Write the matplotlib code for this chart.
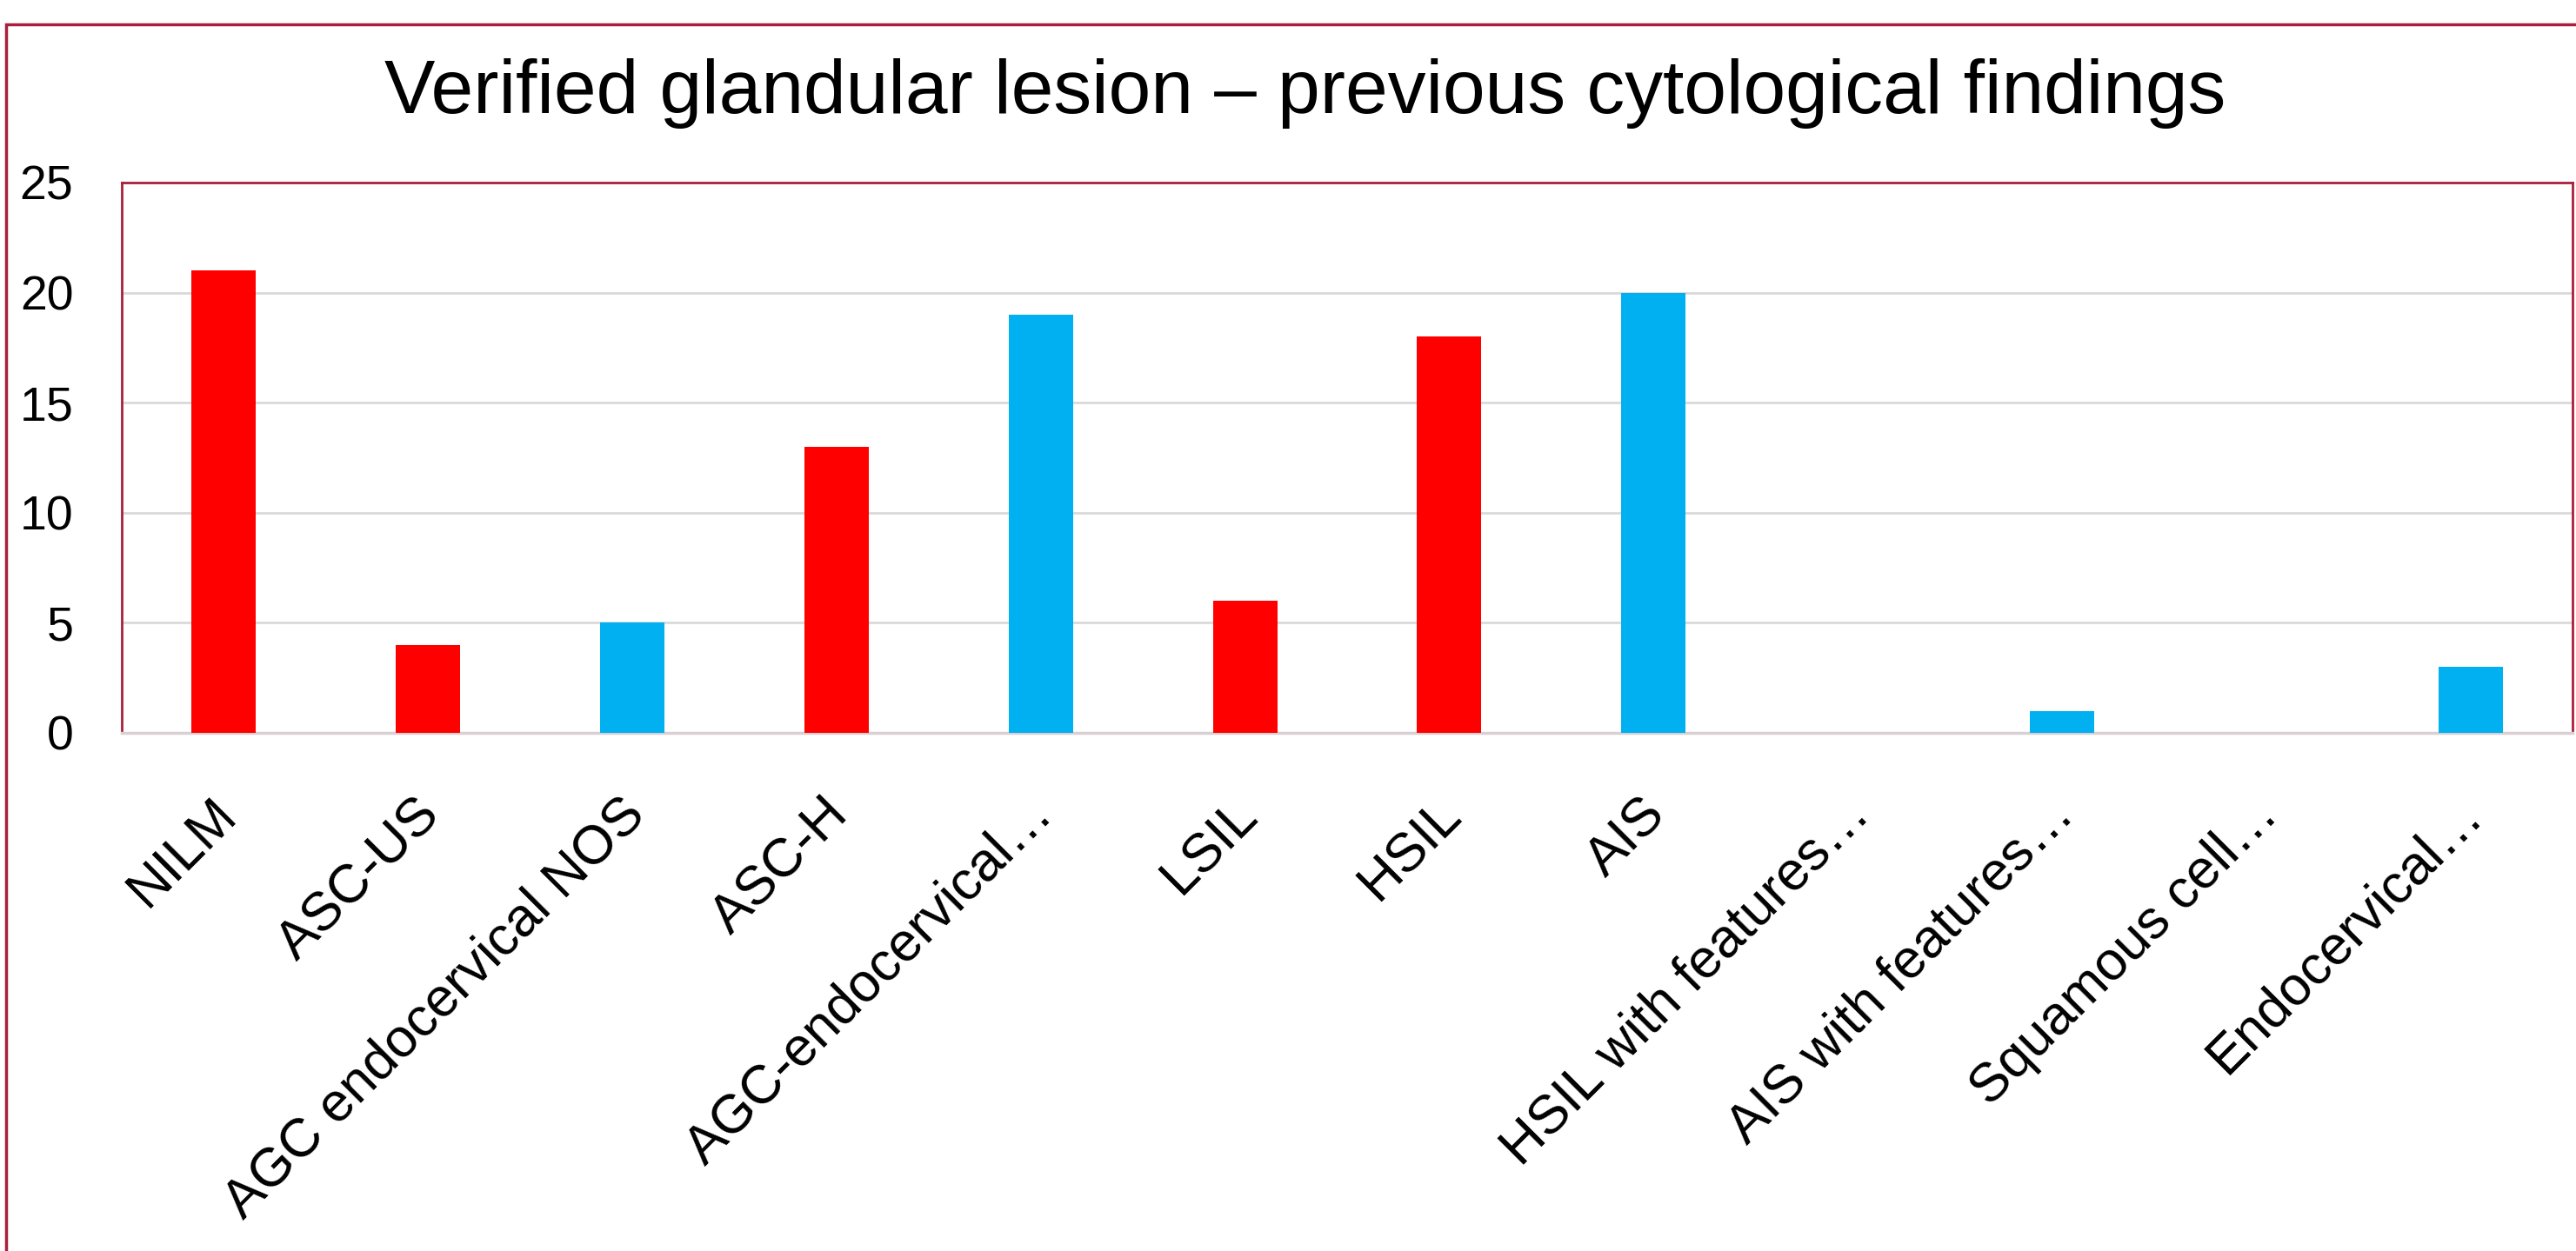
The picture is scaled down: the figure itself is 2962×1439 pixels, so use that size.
import matplotlib
matplotlib.use("Agg")
import matplotlib.pyplot as plt
from matplotlib.patches import Rectangle
from matplotlib.transforms import ScaledTranslation

# categories and counts
categories = ["NILM", "ASC-US", "AGC endocervical NOS", "ASC-H", "AGC-endocervical…",
              "LSIL", "HSIL", "AIS", "HSIL with features…", "AIS with features…",
              "Squamous cell…", "Endocervical…"]
counts = [21, 4, 5, 13, 19, 6, 18, 20, 0, 1, 0, 3]
groups = ["s", "s", "g", "s", "g", "s", "s", "g", "s", "g", "s", "g"]

RED = "#FF0000"
BLUE = "#00B0F0"
BORDER = "#A8203C"
colors = [RED if g == "s" else BLUE for g in groups]

plt.rcParams["font.family"] = ["Liberation Sans", "DejaVu Sans"]

fig = plt.figure(figsize=(29.62, 14.39), dpi=100)
ax = fig.add_axes([140 / 2962, 1 - 843 / 1439, (2958 - 140) / 2962, (843 - 210) / 1439])

x = list(range(len(categories)))
ax.bar(x, counts, width=0.315, color=colors, zorder=3)

ax.set_xlim(-0.5, len(categories) - 0.5)
ax.set_ylim(0, 25)
ax.set_yticks([0, 5, 10, 15, 20, 25])
ax.yaxis.grid(True, color="#D9D9D9", linewidth=2, zorder=0)
ax.set_xticks(x)
ax.set_xticklabels(categories, rotation=45, ha="right", rotation_mode="anchor")
ax.tick_params(axis="y", length=0, labelsize=40, pad=40)
ax.tick_params(axis="x", length=0, labelsize=45, pad=46)

# nudge the slanted labels a little to the left
shift = ScaledTranslation(-0.16, 0, fig.dpi_scale_trans)
for lab in ax.get_xticklabels():
    lab.set_transform(lab.get_transform() + shift)

for side in ["left", "top", "right"]:
    ax.spines[side].set_color(BORDER)
    ax.spines[side].set_linewidth(2)
ax.spines["bottom"].set_color("#D9D0D3")
ax.spines["bottom"].set_linewidth(2.5)

fig.text(0.5065, 1 - 108 / 1439, "Verified glandular lesion – previous cytological findings",
         ha="center", va="center", fontsize=63)

# outer chart border (runs off the right and bottom edges)
fig.patches.append(Rectangle((7 / 2962, -0.05), 1.1, 1 - 28 / 1439 + 0.05,
                             transform=fig.transFigure, fill=False,
                             edgecolor=BORDER, linewidth=2.5, clip_on=False))

fig.savefig("out.png", dpi=100)
